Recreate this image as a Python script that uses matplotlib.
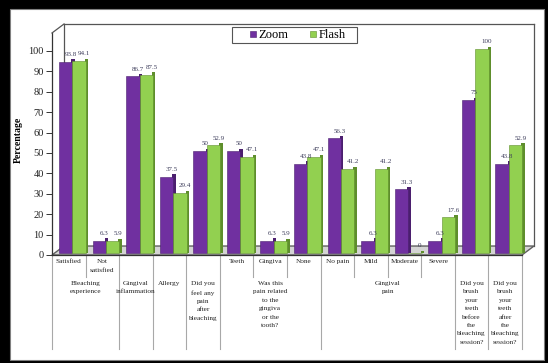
import matplotlib
matplotlib.use("Agg")
import matplotlib.pyplot as plt
from matplotlib.patches import Rectangle
from matplotlib.lines import Line2D
from matplotlib.transforms import blended_transform_factory
import numpy as np

# ---------------- data ----------------
sub_labels = ["Satisfied", "Not\nsatisfied", "", "", "", "Teeth", "Gingiva", "None",
              "No pain", "Mild", "Moderate", "Severe", "", ""]
zoom = [93.8, 6.3, 86.7, 37.5, 50, 50, 6.3, 43.8, 56.3, 6.3, 31.3, 6.3, 75, 43.8]
flash = [94.1, 5.9, 87.5, 29.4, 52.9, 47.1, 5.9, 47.1, 41.2, 41.2, 0, 17.6, 100, 52.9]
zoom_lbl = ["93.8", "6.3", "86.7", "37.5", "50", "50", "6.3", "43.8", "56.3", "6.3", "31.3", "6.3", "75", "43.8"]
flash_lbl = ["94.1", "5.9", "87.5", "29.4", "52.9", "47.1", "5.9", "47.1", "41.2", "41.2", "0", "17.6", "100", "52.9"]
groups = ["Bleaching\nexperience", "Gingival\ninflammation", "Allergy",
          "Did you\nfeel any\npain\nafter\nbleaching",
          "Was this\npain related\nto the\ngingiva\nor the\ntooth?",
          "Gingival\npain",
          "Did you\nbrush\nyour\nteeth\nbefore\nthe\nbleaching\nsession?",
          "Did you\nbrush\nyour\nteeth\nafter\nthe\nbleaching\nsession?"]
group_spans = [(0, 2), (2, 3), (3, 4), (4, 5), (5, 8), (8, 12), (12, 13), (13, 14)]
yticks = list(range(0, 101, 10))
series_names = ["Zoom", "Flash"]

# ---------------- style ----------------
W, H = 548, 363
FONT = "Liberation Serif"
purple, purple_d = "#7030A0", "#4B1F6E"
green, green_d = "#92D050", "#5E8E2C"
lblcol = "#3C3C5A"

fig = plt.figure(figsize=(W / 100, H / 100), dpi=100)
fig.patch.set_facecolor("black")
fig.patches.append(Rectangle((10 / W, 3 / H), 534 / W, 351 / H, transform=fig.transFigure,
                             facecolor="white", edgecolor="#808080", lw=0.8, zorder=-5))

def fy(px):
    return (H - px) / H

n = len(zoom)
dx = 12 / 33.57   # depth offset in category units
dy = 4.4          # depth offset in value units
ytop_back = 113.2
ytop_front = ytop_back - dy

ax = fig.add_axes([52 / W, (H - 255) / H, 482 / W, 231 / H])
ax.set_zorder(2)
ax.set_xlim(0, n + dx)
ax.set_ylim(0, ytop_back)
ax.patch.set_alpha(0)
for s in ax.spines.values():
    s.set_visible(False)

# 3D frame
lc = "#555555"
ax.fill([0, n, n + dx, dx], [0, 0, dy, dy], facecolor="#d4d4d4", edgecolor="#606060",
        lw=1.0, zorder=1, clip_on=False)
ax.plot([0, 0], [0, ytop_front], color="#333333", lw=0.9, clip_on=False, zorder=1)
ax.plot([0, dx], [ytop_front, ytop_back], color=lc, lw=0.9, clip_on=False, zorder=1)
ax.plot([dx, n + dx], [ytop_back, ytop_back], color=lc, lw=0.9, clip_on=False, zorder=1)
ax.plot([n + dx, n + dx], [dy, ytop_back], color=lc, lw=0.9, clip_on=False, zorder=1)
ax.plot([dx, dx], [dy, ytop_back], color=lc, lw=0.9, clip_on=False, zorder=1)
ax.plot([0, n], [0, 0], color="#333333", lw=0.9, clip_on=False, zorder=1)

# bars
x = np.arange(n)
bw = 0.40
x0 = x + 0.21
x1 = x0 + bw
zv = np.array(zoom)
fv = np.array(flash)
ax.bar(x0 + bw - 0.03, zv + 1.3, width=0.1, align="edge", color=purple_d, zorder=2, bottom=0.8)
ax.bar(x0, zv, width=bw, align="edge", color=purple, edgecolor=purple_d, lw=0.4, zorder=3, bottom=0.8)
ax.bar(x1 + bw - 0.03, fv + 1.3, width=0.1, align="edge", color=green_d, zorder=2, bottom=0.8)
ax.bar(x1, fv, width=bw, align="edge", color=green, edgecolor=green_d, lw=0.4, zorder=3, bottom=0.8)

for i in range(n):
    ax.text(x0[i] + bw / 2 + 0.15, zv[i] + 3.2, zoom_lbl[i], ha="center", va="bottom",
            fontsize=5, family=FONT, color=lblcol, zorder=5)
    ax.text(x1[i] + bw / 2 + 0.15, fv[i] + 3.2, flash_lbl[i], ha="center", va="bottom",
            fontsize=5, family=FONT, color=lblcol, zorder=5)

ax.set_xticks([])
ax.set_yticks(yticks)
ax.set_yticklabels([str(t) for t in yticks], fontsize=7.5, family=FONT, color="#222222")
ax.tick_params(axis="y", length=4, width=0.7, color="#333333", pad=2)
ax.set_ylabel("Percentage", fontsize=7, family=FONT, fontweight="bold")
ax.yaxis.set_label_coords(-(52 - 23) / 482, (255 - 140) / 231)

# category table below axis
tr = blended_transform_factory(ax.transData, fig.transFigure)
long_lines = [0, 2, 3, 4, 5, 8, 12, 13, 14]
for b in range(n + 1):
    bottom = 349 if b in long_lines else 277
    fig.add_artist(Line2D([b, b], [fy(256), fy(bottom)], transform=tr, color="#a8a8a8", lw=0.8))

for i, lab in enumerate(sub_labels):
    if lab:
        fig.text(i + 0.5, fy(259), lab, transform=tr, ha="center", va="top", fontsize=5.2,
                 family=FONT, color="#222222", linespacing=2.0, multialignment="center")

for (a, b), g in zip(group_spans, groups):
    fig.text((a + b) / 2, fy(281), g, transform=tr, ha="center", va="top", fontsize=5.2,
             family=FONT, color="#222222", linespacing=1.85, multialignment="center")

# legend
fig.patches.append(Rectangle((232 / W, fy(43)), 125 / W, 16 / H, transform=fig.transFigure,
                             facecolor="white", edgecolor="#555555", lw=0.8, zorder=8))
handles = [Line2D([], [], marker="s", ls="", color=purple, markersize=4, markeredgecolor=purple_d, markeredgewidth=0.4),
           Line2D([], [], marker="s", ls="", color=green, markersize=4, markeredgecolor=green_d, markeredgewidth=0.4)]
leg = fig.legend(handles, series_names, loc="center", bbox_to_anchor=(297 / W, fy(35)), ncol=2,
                 frameon=False, prop={"family": FONT, "size": 9},
                 handletextpad=0.1, columnspacing=1.6, borderpad=0.2, handlelength=0.7)
leg.set_zorder(10)

fig.savefig("out.png", dpi=100, facecolor=fig.get_facecolor())
